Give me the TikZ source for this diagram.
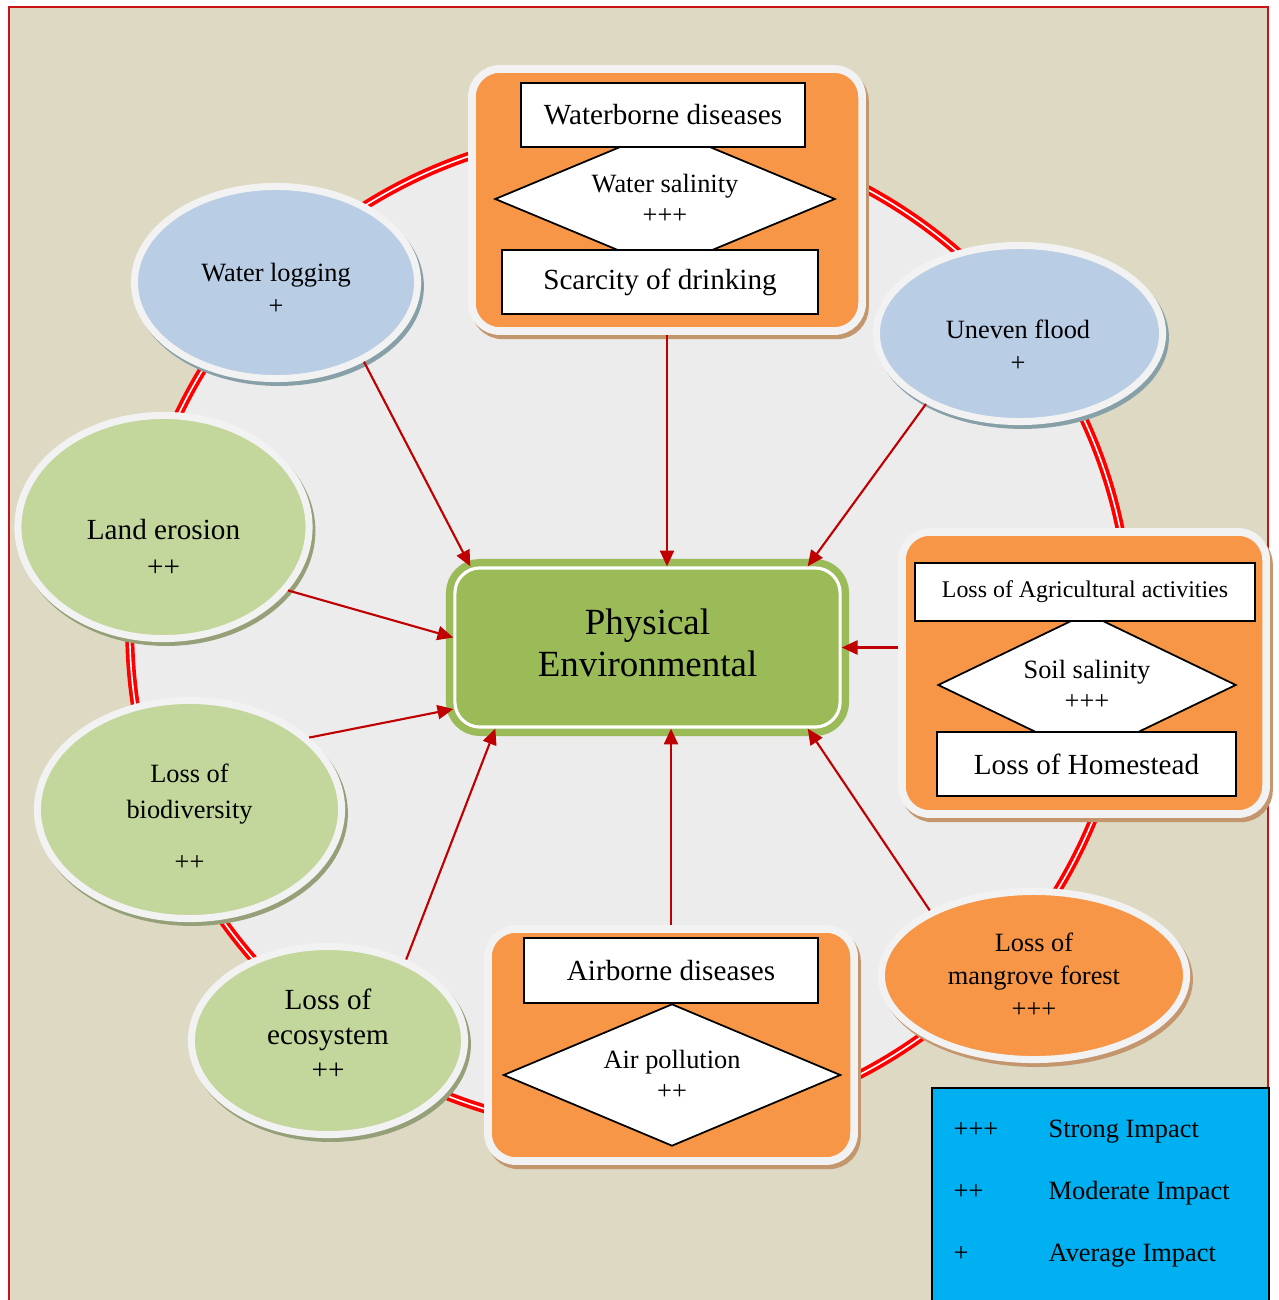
\documentclass[tikz,border=0pt]{standalone}
\usepackage{fontspec}
\setmainfont{Liberation Serif}
\usetikzlibrary{arrows.meta, shapes.geometric, shadows}
\definecolor{tanbg}{RGB}{221,217,195}
\definecolor{framered}{RGB}{200,20,20}
\definecolor{ringred}{RGB}{255,0,0}
\definecolor{discgray}{RGB}{236,236,236}
\definecolor{physgreen}{RGB}{155,187,89}
\definecolor{boxorange}{RGB}{247,150,70}
\definecolor{skyblue}{RGB}{185,205,229}
\definecolor{leafgreen}{RGB}{195,214,155}
\definecolor{legcyan}{RGB}{0,176,240}
\definecolor{arrred}{RGB}{192,0,0}
\definecolor{rimwhite}{RGB}{242,242,242}
\definecolor{blueshadow}{RGB}{135,160,168}
\definecolor{leafshadow}{RGB}{150,160,120}
\definecolor{tanshadow}{RGB}{196,150,110}
\newcommand{\fbig}{\fontsize{8.3}{10.4}\selectfont}
\newcommand{\fmid}{\fontsize{7.5}{9.4}\selectfont}
\newcommand{\fsml}{\fontsize{6.8}{8}\selectfont}
\newcommand{\fctr}{\fontsize{10.5}{12}\selectfont}

\begin{document}
\begin{tikzpicture}[x=0.01cm, y=-0.01cm,
  bubble/.style={ellipse, draw=rimwhite, line width=2pt, inner sep=0pt},
  sky/.style={bubble, fill=skyblue, general shadow={fill=blueshadow, draw=blueshadow, shadow xshift=0.8pt, shadow yshift=-1.1pt}},
  leaf/.style={bubble, fill=leafgreen, general shadow={fill=leafshadow, draw=leafshadow, shadow xshift=0.8pt, shadow yshift=-1.1pt}},
  rust/.style={bubble, fill=boxorange, general shadow={fill=tanshadow, draw=tanshadow, shadow xshift=0.8pt, shadow yshift=-1.1pt}},
  btxt/.style={inner sep=0pt, align=center, font=\fbig},
  panel/.style={rectangle, rounded corners=0.28cm, fill=boxorange, draw=rimwhite, line width=2.2pt,
    general shadow={fill=tanshadow, draw=tanshadow, shadow xshift=0.8pt, shadow yshift=-1.2pt}},
  tag/.style={rectangle, draw=black, fill=white, line width=0.6pt, inner sep=0pt, font=\fbig},
  gem/.style={diamond, shape aspect=2.3, draw=black, fill=white, line width=0.5pt, inner sep=0pt, align=center,
    font=\fontsize{7.5}{9}\selectfont},
  phys/.style={rectangle, rounded corners=0.25cm, fill=physgreen, draw=white, line width=0.9pt,
    preaction={draw=physgreen, line width=5.1pt},
    minimum width=3.85cm, minimum height=1.59cm},
  arr/.style={arrred, line width=0.6pt, -{Triangle[length=4.5pt, width=4pt]}},
  keytxt/.style={inner sep=0pt, font=\fmid}]

  \useasboundingbox (0,0) rectangle (1278,1300);
  \clip (0,0) rectangle (1278,1300);
  \fill[white] (0,0) rectangle (1278,1300);
  \fill[tanbg] (9,7) rectangle (1268,1310);
  \draw[framered, line width=0.6pt] (9,1310) -- (9,7) -- (1268,7) -- (1268,1310);

  % disc with the double ring
  \fill[discgray] (630,630) circle[radius=5cm];
  \draw[draw=ringred, line width=1.05pt, double=white, double distance=0.45pt] (630,630) circle[radius=5cm];

  % centre
  \node[phys] (phys) at (647.5,647.5) {};
  \node[btxt, font=\fctr] (physt) at (647.5,642.5) {Physical\\Environmental};

  % top panel
  \node[panel, minimum width=3.9cm, minimum height=2.62cm] (wbox) at (667,200) {};
  \node[gem, minimum width=3.4cm, minimum height=1.42cm] (wsal) at (665,199) {Water salinity\\+++};
  \node[tag, minimum width=2.84cm, minimum height=0.64cm] (wdis) at (663,115) {Waterborne diseases};
  \node[tag, minimum width=3.16cm, minimum height=0.64cm] (wscar) at (660,282) {Scarcity of drinking};

  % right panel
  \node[panel, minimum width=3.64cm, minimum height=2.82cm] (rbox) at (1084,673) {};
  \node[gem, minimum width=2.98cm, minimum height=1.44cm] (ssal) at (1087,685) {Soil salinity\\+++};
  \node[tag, font=\fsml, minimum width=3.4cm, minimum height=0.58cm] (ragr) at (1085,592) {Loss of Agricultural activities};
  \node[tag, minimum width=2.99cm, minimum height=0.64cm] (rhome) at (1086.5,764) {Loss of Homestead};

  % bottom panel
  \node[panel, minimum width=3.66cm, minimum height=2.32cm] (abox) at (671,1045) {};
  \node[gem, minimum width=3.37cm, minimum height=1.42cm] (apol) at (672,1075) {Air pollution\\++};
  \node[tag, minimum width=2.94cm, minimum height=0.65cm] (adis) at (671,970.5) {Airborne diseases};

  % bubbles
  \node[sky, minimum width=2.83cm, minimum height=1.92cm] (wlog) at (276,282.5) {};
  \node[btxt, font=\fmid] (wlogt) at (276,288.5) {Water logging\\+};
  \node[sky, minimum width=2.86cm, minimum height=1.76cm] (ufld) at (1019.5,333.5) {};
  \node[btxt, font=\fmid] (ufldt) at (1018,346) {Uneven flood\\+};
  \node[leaf, minimum width=2.91cm, minimum height=2.23cm] (lero) at (163.5,527) {};
  \node[btxt] (lerot) at (163.5,548) {Land erosion\\++};
  \node[leaf, minimum width=3.04cm, minimum height=2.18cm] (lbio) at (189.5,809.5) {};
  \node[btxt, font=\fontsize{7.5}{10}\selectfont] (lbiot) at (189.5,817.5) {Loss of\\biodiversity\\[5pt]++};
  \node[leaf, minimum width=2.73cm, minimum height=1.88cm] (leco) at (328,1040.5) {};
  \node[btxt, font=\fontsize{8.3}{10}\selectfont] (lecot) at (328,1034) {Loss of\\ecosystem\\++};
  \node[rust, minimum width=3.05cm, minimum height=1.68cm] (mang) at (1034,975.5) {};
  \node[btxt, font=\fmid] (mangt) at (1034,975) {Loss of\\mangrove forest\\+++};

  % arrows into the centre
  \draw[arr] (wlog.-42) -- ([xshift=0.17cm]phys.north west);
  \draw[arr] (wbox.south) -- (wbox.south |- phys.north);
  \draw[arr] (ufld.217) -- ([xshift=-0.34cm]phys.north east);
  \draw[arr] (lero.-27) -- ([yshift=0.1cm]phys.west);
  \draw[arr] (lbio.31) -- ([yshift=-0.615cm]phys.west);
  \draw[arr] (rbox.west |- phys.east) -- (phys.east);
  \draw[arr] (leco.46) -- ([xshift=0.42cm]phys.south west);
  \draw[arr] (abox.north) -- (abox.north |- phys.south);
  \draw[arr] (mang.148) -- ([xshift=-0.34cm]phys.south east);

  % legend
  \node[draw=black, line width=0.6pt, fill=legcyan, anchor=north west, minimum width=3.37cm, minimum height=2.5cm] (legend) at (931,1087) {};
  \foreach \y/\k/\v in {1137/+++/Strong Impact, 1199/++/Moderate Impact, 1261/+/Average Impact} {
    \node[keytxt, anchor=base west] (k\y) at (953,\y) {\k};
    \node[keytxt, anchor=base west] (v\y) at (1048,\y) {\v};
  }
\end{tikzpicture}
\end{document}
